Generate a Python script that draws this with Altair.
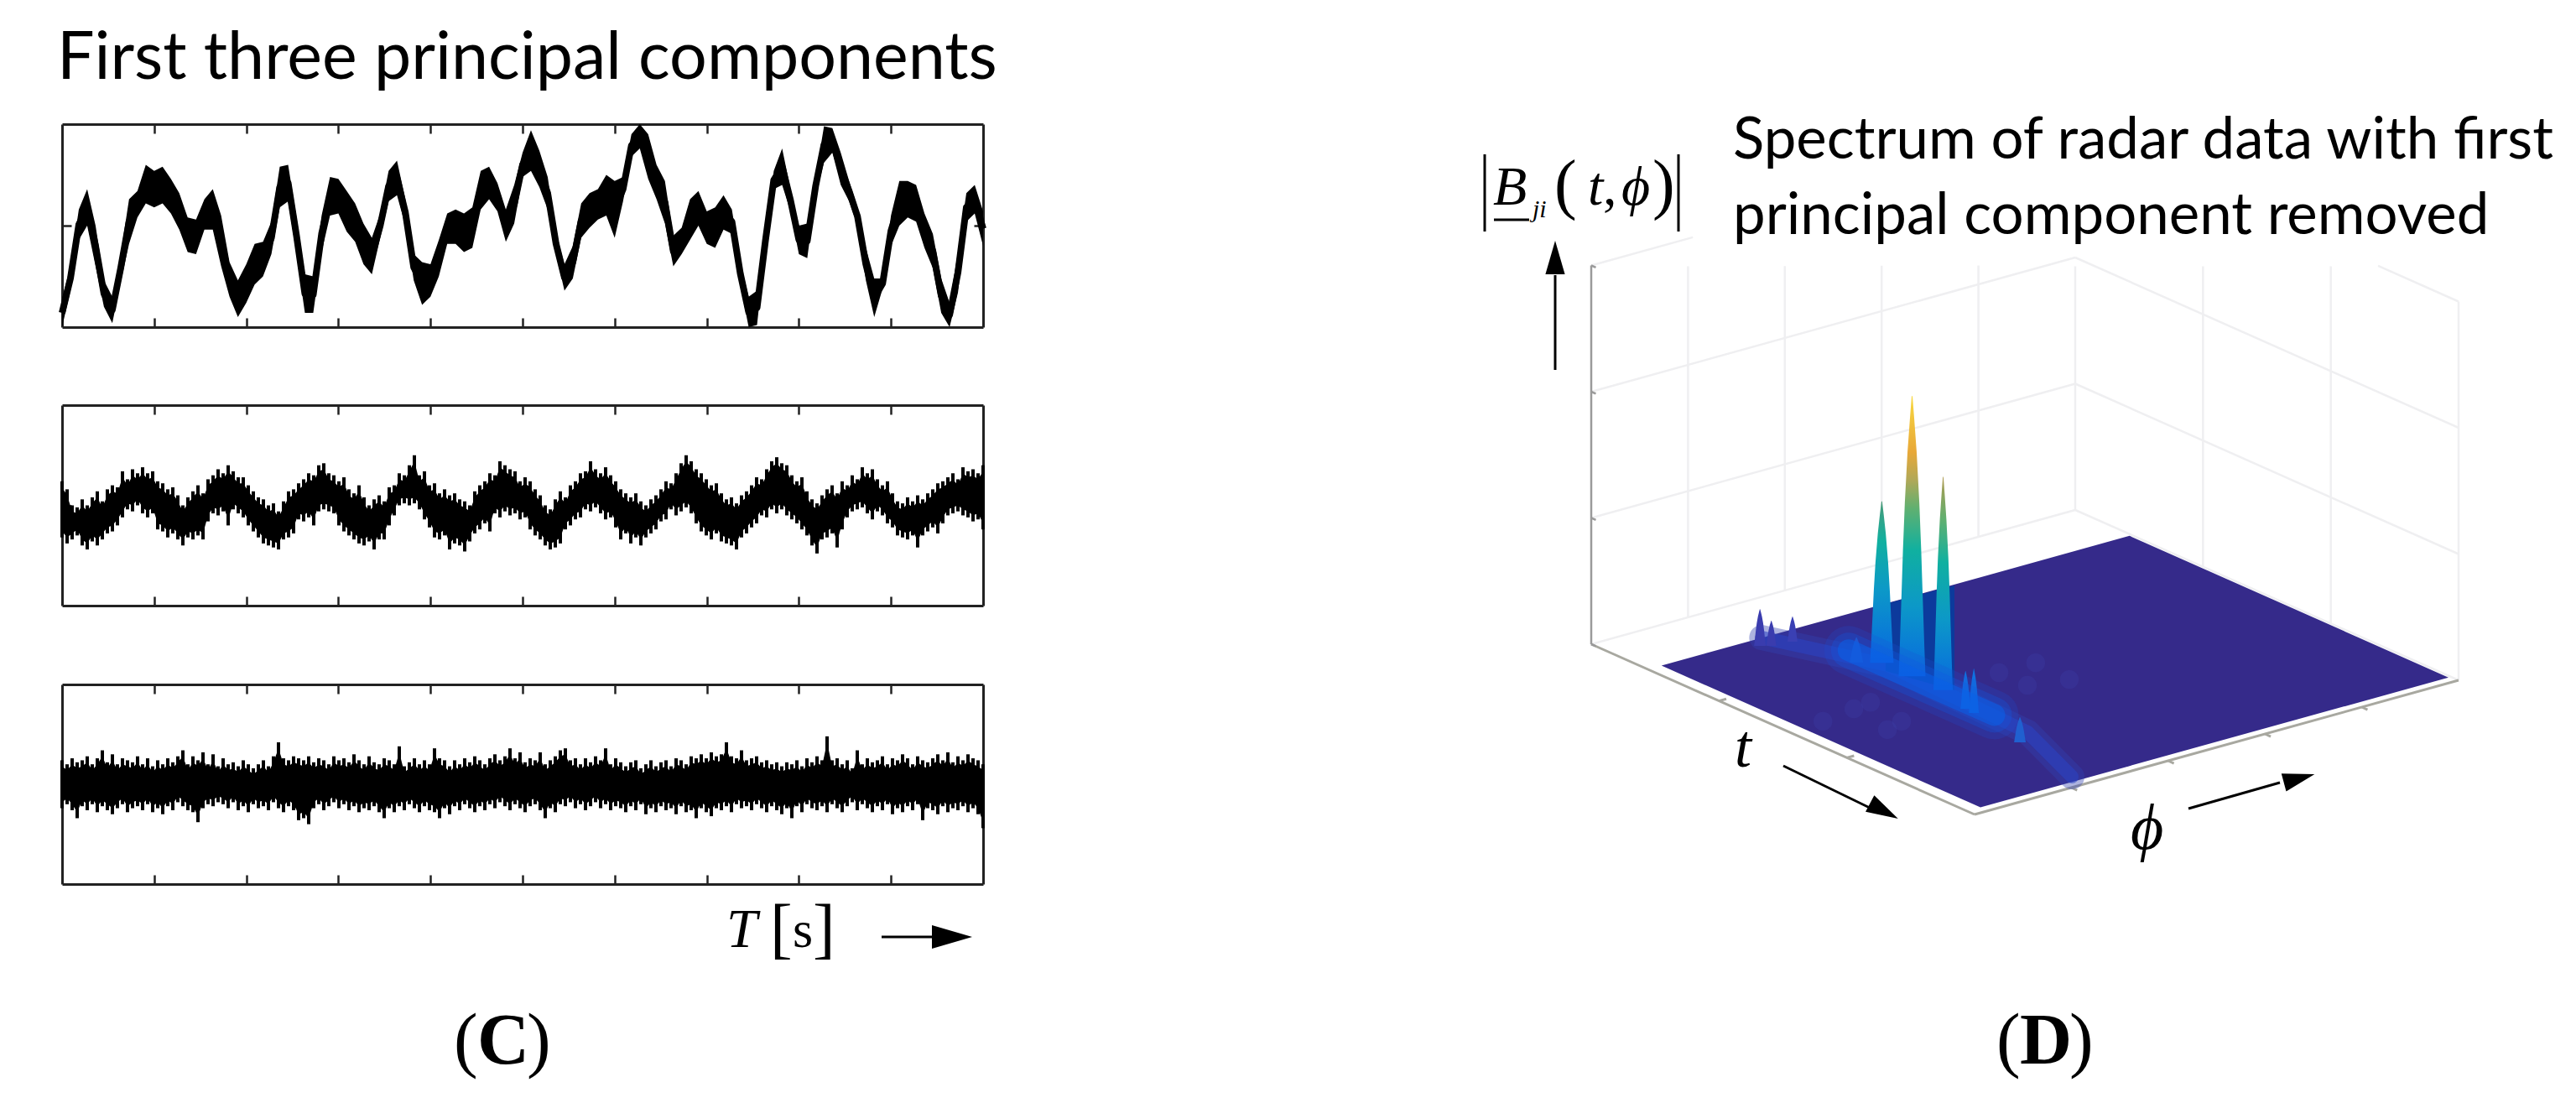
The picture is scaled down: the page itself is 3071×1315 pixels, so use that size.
import numpy as np
import pandas as pd
import altair as alt

W, H = 3055, 1299
INK = "#222222"

# ---------- (C) principal components: upper/lower edge of the trace, amplitude in % of the axis
pc1_upper = [14,30,58,68,50,23,15,36,63,67,80,77,79,73,66,54,53,63,68,55,32,23,31,41,42,52,79,80,54,26,25,55,74,73,67,61,51,44,
             56,77,82,63,36,32,31,43,56,58,56,59,77,79,71,58,70,86,97,87,74,46,31,40,61,66,68,75,72,74,95,100,95,80,72,45,
             49,63,67,57,59,65,58,32,15,18,46,77,88,68,50,51,74,99,98,86,72,59,39,24,24,55,72,72,70,56,46,24,12,37,66,70,57]
pc1_lower = [0,18,43,50,30,10,2,22,41,54,61,59,61,56,48,37,36,48,48,30,15,5,12,21,25,36,59,62,36,7,7,37,55,56,47,42,31,26,
             44,62,65,50,23,11,15,25,41,41,37,39,58,63,57,42,51,74,77,69,58,36,18,24,44,49,53,55,44,62,84,88,73,63,51,30,
             36,43,50,41,39,48,46,21,0,1,39,68,70,57,36,34,65,81,86,70,62,50,23,5,19,40,50,54,52,39,29,7,0,17,52,56,40]

pc2_upper = [62,58,50,49,53,50,54,57,52,58,60,59,67,63,68,66,69,66,67,62,61,58,59,55,50,54,57,60,56,63,
             65,68,66,70,67,64,64,60,57,54,53,50,51,47,52,57,58,61,63,66,65,70,71,66,65,62,64,58,56,60,
             54,50,53,55,52,59,60,66,65,70,75,65,67,60,61,56,58,55,56,53,52,50,57,60,62,66,65,72,70,68,67,62,64,
             62,58,55,50,48,53,57,54,60,62,66,67,72,68,66,69,65,62,58,56,54,56,52,50,53,55,58,62,61,66,
             71,75,72,68,66,63,60,61,56,53,54,51,55,57,60,64,63,68,72,74,71,70,65,62,64,57,53,51,55,58,
             60,56,62,60,65,63,69,66,68,63,60,62,56,52,51,54,52,55,53,56,58,61,62,64,66,63,69,67,68,66,70]
pc2_lower = [34,31,33,35,30,28,32,30,33,36,37,40,44,48,47,50,46,44,46,38,37,34,36,33,30,34,33,35,33,42,
             46,45,47,40,48,46,44,40,37,34,31,30,29,28,33,34,36,43,42,44,40,47,48,47,46,40,37,35,33,31,
             30,32,28,33,33,40,45,50,51,50,51,48,43,39,34,33,35,28,31,30,27,32,36,38,41,37,46,44,47,45,46,43,44,
             38,35,33,30,28,29,31,38,40,43,44,48,47,49,46,43,44,39,33,36,31,34,30,34,36,38,42,43,48,45,
             47,49,46,41,37,35,33,36,32,31,30,28,34,36,39,41,45,44,48,46,48,45,43,41,38,35,30,26,33,34,
             36,29,38,44,47,48,49,46,43,47,45,41,39,35,34,33,35,29,35,37,39,36,41,45,46,47,45,44,42,43,38]

pc3_upper = [62,60,63,61,62,64,60,63,67,61,65,60,63,62,61,64,60,63,59,62,60,63,61,64,67,60,64,62,66,60,65,59,
             63,60,61,59,62,60,58,60,62,59,64,71,63,62,64,63,62,64,61,63,62,60,64,62,63,61,65,62,60,64,61,60,
             63,62,60,69,59,61,63,60,62,60,68,63,62,59,62,60,63,61,64,62,60,63,65,62,64,68,63,66,61,63,62,66,
             60,62,64,67,68,62,63,60,63,61,64,62,68,60,63,61,59,61,62,58,60,62,59,61,62,59,63,62,60,64,63,65,
             63,66,64,65,71,64,63,67,62,63,64,61,62,60,61,59,61,60,62,59,63,61,64,62,74,62,63,60,62,58,67,60,
             63,61,62,64,60,63,62,65,63,60,64,62,61,63,65,62,66,61,64,62,65,63,62,60]
pc3_lower = [38,40,37,33,39,37,40,36,39,37,35,38,40,36,38,39,37,40,36,38,35,39,37,41,39,37,36,31,38,40,39,41,
             40,38,41,37,39,36,40,38,39,37,41,38,36,39,37,32,33,30,38,40,37,39,41,38,40,37,39,36,38,37,39,36,
             33,38,36,39,37,40,38,36,39,37,36,33,38,35,39,37,40,38,36,39,37,40,38,41,39,37,40,38,36,39,40,37,
             33,38,36,40,39,41,38,40,37,39,41,38,40,37,39,38,36,39,37,40,35,38,36,39,37,38,35,39,36,37,33,38,
             36,34,38,37,39,36,40,38,39,37,40,38,36,39,37,35,38,33,39,36,40,38,37,39,36,40,38,36,39,41,37,40,
             38,36,39,37,40,35,38,36,39,37,40,32,38,37,35,39,36,38,37,39,36,38,35,28]

time_ticks = [1, 2, 3, 4, 5, 6, 7, 8, 9]
amp_ticks = [50]

# ---------- (D) spectrum: axis coordinates t (0..1), phi (0..1), height z (0..3)
ridge_t = [0.147, 0.372, 0.756, 0.961]
ridge_phi = [0.236, 0.317, 0.303, 0.232]
core_t = [0.28, 0.66]
core_phi = [0.31, 0.31]
main_peaks = [  # t, phi, height, half-width, gradient colours (offset, colour)
    (0.359, 0.316, 1.28, 14.0, [(0, "#0868e0"), (.45, "#0c98c8"), (.75, "#10b0a0"), (1, "#4a9a78")]),
    (0.519, 0.316, 1.69, 11.5, [(0, "#0868e0"), (.33, "#0c98c8"), (.6, "#10b0a0"), (.8, "#60b070"), (1, "#b09a50")]),
    (0.438, 0.316, 2.22, 16.0, [(0, "#0868e0"), (.25, "#0c98c8"), (.45, "#10b0a0"), (.6, "#60b070"),
                                (.7, "#b0a858"), (.8, "#e8a838"), (1, "#f8d840")]),
]
small_peaks = [
    (0.175, 0.210, 0.29, 7, "#3a3cae"), (0.187, 0.224, 0.20, 6, "#3a3cae"), (0.193, 0.263, 0.20, 6, "#3a40b4"),
    (0.332, 0.285, 0.20, 8, "#2a56c8"), (0.609, 0.291, 0.30, 6, "#1070e0"), (0.632, 0.290, 0.35, 6, "#1070e0"),
    (0.785, 0.264, 0.20, 7, "#2060d0"),
]
profile_frac = [0, .1, .3, .45, .62, .8, .92, 1]
profile_width = [1, .92, .78, .68, .54, .34, .16, .03]
mottle_t = [.512, .513, .586, .607, .49, .497, .511, .590, .606]
mottle_phi = [.437, .512, .437, .507, .189, .149, .074, .174, .132]
surface_t = [0.148, 0.98]
surface_phi = [0.028, 0.995]


def project(t, phi, z=0.0):
    t, phi, z = np.asarray(t, float), np.asarray(phi, float), np.asarray(z, float)
    return 1889 + 457 * t + 577 * phi, 760 + 203 * t - 160 * phi - 150.5 * z


def xs():
    return alt.Scale(domain=[0, W], range=[0, W], nice=False, zero=False)


def ys():
    return alt.Scale(domain=[0, H], range=[0, H], nice=False, zero=False)


def seg_layer(df, color, width, opacity=1.0, cap="butt"):
    return alt.Chart(df).mark_line(color=color, strokeWidth=width, opacity=opacity, strokeCap=cap, clip=False).encode(
        x=alt.X("px:Q", scale=xs(), axis=None), y=alt.Y("py:Q", scale=ys(), axis=None),
        detail="seg:N", order="o:Q")


def segs(items):
    rows = []
    for k, pts in enumerate(items):
        for o, (t, phi, z) in enumerate(pts):
            px, py = project(t, phi, z)
            rows.append(dict(seg=k, o=o, px=float(px), py=float(py)))
    return pd.DataFrame(rows)


# ---- panels
def panel(upper, lower, top, bottom, noisy):
    n = len(upper)
    df = pd.DataFrame({"T": [10 * i / (n - 1) for i in range(n)], "hi": upper, "lo": lower})
    xsc = alt.Scale(domain=[0, 10], range=[66, 1164], nice=False, zero=False)
    ysc = alt.Scale(domain=[0, 100], range=[bottom, top], nice=False, zero=False)
    common = dict(domainColor=INK, domainWidth=3, tickColor=INK, tickWidth=2.5, tickSize=11,
                  labels=False, title=None, grid=False)
    frame1 = alt.Chart(df).mark_area(opacity=0).encode(
        x=alt.X("T:Q", scale=xsc, axis=alt.Axis(orient="top", offset=-bottom, values=time_ticks, **common)),
        y=alt.Y("hi:Q", scale=ysc, axis=alt.Axis(orient="right", offset=66 - W, values=amp_ticks, **common)),
        y2="lo:Q")
    frame2 = alt.Chart(df).mark_area(opacity=0).encode(
        x=alt.X("T:Q", scale=xsc, axis=alt.Axis(orient="bottom", offset=top - H, values=time_ticks, **common)),
        y=alt.Y("hi:Q", scale=ysc, axis=alt.Axis(orient="left", offset=-1164, values=amp_ticks, **common)),
        y2="lo:Q")
    out = [frame1, frame2]
    if noisy:
        body = alt.Chart(df).transform_calculate(h="datum.hi-3", l="datum.lo+3").mark_area(
            color="#000000", interpolate="linear").encode(
            x=alt.X("T:Q", scale=xsc, axis=None), y=alt.Y("h:Q", scale=ysc, axis=None), y2="l:Q")
        spikes = alt.Chart(df).mark_rule(color="#000000", strokeWidth=4).encode(
            x=alt.X("T:Q", scale=xsc, axis=None), y=alt.Y("hi:Q", scale=ysc, axis=None), y2="lo:Q")
        out += [body, spikes]
    else:
        body = alt.Chart(df).mark_area(color="#000000", interpolate="linear").encode(
            x=alt.X("T:Q", scale=xsc, axis=None), y=alt.Y("hi:Q", scale=ysc, axis=None), y2="lo:Q")
        mid = alt.Chart(df).transform_calculate(m="(datum.hi+datum.lo)/2").mark_line(
            color="#000000", strokeWidth=8, strokeJoin="round").encode(
            x=alt.X("T:Q", scale=xsc, axis=None), y=alt.Y("m:Q", scale=ysc, axis=None))
        out += [body, mid]
    return out


layers = []
layers += panel(pc1_upper, pc1_lower, 140, 382, False)
layers += panel(pc2_upper, pc2_lower, 475, 714, True)
layers += panel(pc3_upper, pc3_lower, 808, 1046, True)

# ---- spectrum box
wall = []
for phi, top in [(.2, 2.78), (.4, 2.57), (.6, 2.36), (.8, 2.15), (1, 1.93)]:
    wall.append([(0, phi, 0), (0, phi, top)])
for t, top in [(1 / 3, 2.38), (2 / 3, 2.83), (1, 3)]:
    wall.append([(t, 1, 0), (t, 1, top)])
for z in (1, 2):
    wall.append([(0, 0, z), (0, 1, z)])
    wall.append([(0, 1, z), (1, 1, z)])
wall.append([(0, 0, 0), (0, 1, 0)])
wall.append([(0, 1, 0), (1, 1, 0)])
wall.append([(0, 0, 3), (0, 0.21, 3)])
wall.append([(0.79, 1, 3), (1, 1, 3)])
layers.append(seg_layer(segs(wall), "#efeff1", 2.5))

edges = [[(0, 0, 0), (1, 0, 0)], [(1, 0, 0), (1, 1, 0)]]
edges += [[(t, 0, 0), (t, 0.015, 0)] for t in (1 / 3, 2 / 3)]
edges += [[(1, p, 0), (1.015, p, 0)] for p in (.2, .4, .6, .8)]
layers.append(seg_layer(segs(edges), "#a8a8a0", 3))
axis_z = [[(0, 0, 0), (0, 0, 3)]] + [[(0, 0, z), (0.012, 0, z)] for z in (0, 1, 2, 3)]
layers.append(seg_layer(segs(axis_z), "#9a9a9a", 2.5))

# ---- surface floor
cx, cy = project([surface_t[0], surface_t[1], surface_t[0], surface_t[1]],
                 [surface_phi[0], surface_phi[0], surface_phi[1], surface_phi[1]])
fx = [cx[0], cx[1], cx[2], cx[3]]
upper_edge = np.interp(fx, [cx[0], cx[2], cx[3]], [cy[0], cy[2], cy[3]])
lower_edge = np.interp(fx, [cx[0], cx[1], cx[3]], [cy[0], cy[1], cy[3]])
floor = pd.DataFrame({"px": fx, "py": upper_edge, "py2": lower_edge})
layers.append(alt.Chart(floor).mark_area(color="#352a8a").encode(
    x=alt.X("px:Q", scale=xs(), axis=None), y=alt.Y("py:Q", scale=ys(), axis=None), y2="py2:Q"))

# ---- mottled low ripples and the ridge
mx, my = project(mottle_t, mottle_phi)
layers.append(alt.Chart(pd.DataFrame({"px": mx, "py": my})).mark_circle(color="#4048b4", size=500, opacity=.22).encode(
    x=alt.X("px:Q", scale=xs(), axis=None), y=alt.Y("py:Q", scale=ys(), axis=None)))
ridge = [list(zip(ridge_t, ridge_phi, [0] * 4))]
layers.append(seg_layer(segs(ridge), "#3340b0", 30, .4, "round"))
layers.append(seg_layer(segs(ridge), "#2a44c4", 16, .55, "round"))

# dark gap behind the main peaks
gap = pd.DataFrame({"px": [2240, 2322], "py": [712, 690], "py2": [792, 815]})
layers.append(alt.Chart(gap).mark_area(color="#0c3a9c").encode(
    x=alt.X("px:Q", scale=xs(), axis=None), y=alt.Y("py:Q", scale=ys(), axis=None), y2="py2:Q"))


def spike(t, phi, z, hw, fill):
    bx, by = project(t, phi)
    left = [(float(bx) - hw * w, float(by) - f * z * 150.5) for f, w in zip(profile_frac, profile_width)]
    right = [(float(bx) + hw * w, float(by) - f * z * 150.5) for f, w in zip(profile_frac[::-1], profile_width[::-1])]
    df = pd.DataFrame(left + right, columns=["px", "py"])
    df["py2"] = float(by)
    return alt.Chart(df).mark_area(fill=fill, interpolate="linear").encode(
        x=alt.X("px:Q", scale=xs(), axis=None), y=alt.Y("py:Q", scale=ys(), axis=None), y2="py2:Q")


for t, phi, z, hw, col in small_peaks:
    layers.append(spike(t, phi, z, hw, col))
for t, phi, z, hw, stops in main_peaks:
    grad = alt.LinearGradient(gradient="linear", x1=0, x2=0, y1=1, y2=0,
                              stops=[alt.GradientStop(offset=o, color=c) for o, c in stops])
    layers.append(spike(t, phi, z, hw, grad))
core = [list(zip(core_t, core_phi, [0, 0]))]
layers.append(seg_layer(segs(core), "#1a50d8", 58, .22, "round"))
layers.append(seg_layer(segs(core), "#0f58e0", 42, .3, "round"))
layers.append(seg_layer(segs(core), "#0a60e8", 26, .55, "round"))


# ---- text and arrows
def label(text, x, y, size, font="Liberation Serif", style="normal", weight="normal", align="left"):
    return alt.Chart(pd.DataFrame({"s": [text]})).mark_text(
        font=font, fontSize=size, fontStyle=style, fontWeight=weight, align=align, baseline="alphabetic",
        color="#000000").encode(x=alt.value(x), y=alt.value(y), text="s:N")


def stroke(x1, y1, x2, y2, width=3):
    return alt.Chart(pd.DataFrame({"a": [0]})).mark_rule(color="#000000", strokeWidth=width).encode(
        x=alt.value(x1), x2=alt.value(x2), y=alt.value(y1), y2=alt.value(y2))


HEAD = "M-1,-0.58L1,0L-1,0.58Z"


def head(x, y, angle, size=2304):
    return alt.Chart(pd.DataFrame({"a": [0]})).mark_point(
        shape=HEAD, size=size, filled=True, color="#000000", opacity=1, angle=angle, strokeWidth=0).encode(
        x=alt.value(x), y=alt.value(y))


layers += [
    label("First three principal components", 60, 86, 79, "Lato"),
    label("Spectrum of radar data with first", 2058, 181, 69, "Lato"),
    label("principal component removed", 2058, 271, 69, "Lato"),
    label("T", 858, 1121, 66, style="italic"),
    label("[", 910, 1125, 80),
    label("s", 937, 1121, 62),
    label("]", 961, 1125, 80),
    stroke(1043, 1109, 1105, 1109),
    head(1127, 1109, 0),
    label("(", 533, 1260, 86),
    label("C", 561, 1260, 86, weight="bold"),
    label(")", 620, 1260, 86),
    label("(", 2372, 1260, 86),
    label("D", 2400, 1260, 86, weight="bold"),
    label(")", 2459, 1260, 86),
    stroke(1762, 176, 1762, 268),
    stroke(1993, 176, 1993, 268),
    label("B", 1772, 236, 66, style="italic"),
    stroke(1773, 254, 1815, 254),
    label("ji", 1819, 251, 30, style="italic"),
    label("(", 1845, 238, 80),
    label("t", 1885, 236, 66, style="italic"),
    label(",", 1903, 236, 66),
    label("ϕ", 1925, 236, 66, style="italic"),
    label(")", 1962, 238, 80),
    stroke(1846, 433, 1846, 320),
    head(1846, 299, 270, 1600),
    label("t", 2060, 906, 72, style="italic"),
    label("ϕ", 2532, 1004, 76, style="italic"),
    stroke(2118, 905, 2225, 957),
    head(2238, 959, 28, 1444),
    stroke(2601, 956, 2710, 925),
    head(2733, 920, 345, 1444),
]

chart = alt.layer(*layers).resolve_scale(x="independent", y="independent").resolve_axis(
    x="independent", y="independent"
).properties(
    width=W, height=H, padding=0, autosize=alt.AutoSizeParams(type="none"), background="#ffffff"
).configure_view(stroke=None)

chart.save("out.html", embed_options={"renderer": "svg", "actions": False})
